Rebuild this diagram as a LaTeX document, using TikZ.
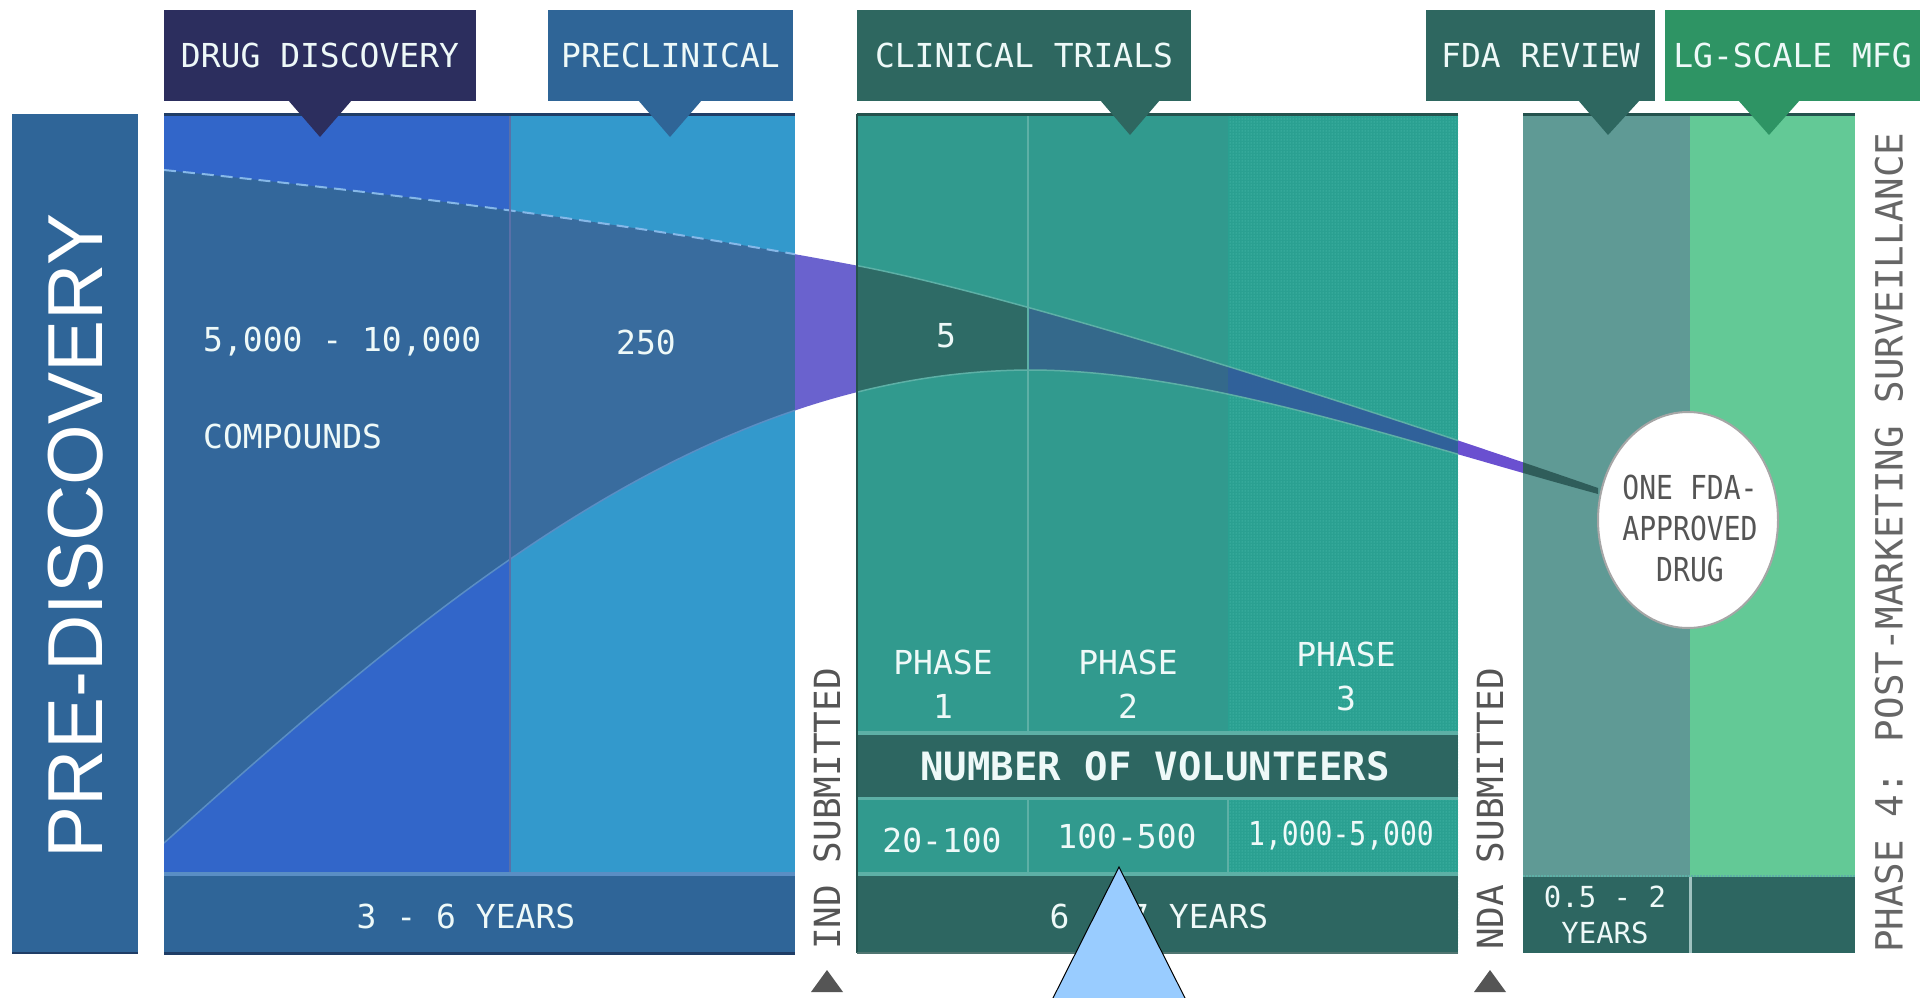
\documentclass[tikz,border=0pt]{standalone}
\usepackage{fontspec}
\newfontfamily\monof{DejaVu Sans Mono}
\newfontfamily\condmonof[FakeStretch=0.85]{DejaVu Sans Mono}
\newfontfamily\widesansf{Liberation Sans}
\usetikzlibrary{patterns,shapes.geometric}
\definecolor{hdrnavy}{HTML}{2C2E5E}
\definecolor{hdrblue}{HTML}{2F6597}
\definecolor{hdrteal}{HTML}{2E6760}
\definecolor{hdrgreen}{HTML}{2E9464}
\definecolor{predisc}{HTML}{2F6598}
\definecolor{ddblue}{HTML}{3266C9}
\definecolor{preblue}{HTML}{3399CC}
\definecolor{funblue}{HTML}{33679B}
\definecolor{funpurple}{HTML}{6A62CE}
\definecolor{funpurple2}{HTML}{6A50D0}
\definecolor{ctteal}{HTML}{319A8E}
\definecolor{p3teal}{HTML}{2AA091}
\definecolor{p3dot}{HTML}{5CCABB}
\definecolor{funteal}{HTML}{2E6B66}
\definecolor{funp2}{HTML}{34698B}
\definecolor{funp3}{HTML}{30619A}
\definecolor{funfda}{HTML}{2F5D5A}
\definecolor{darkteal}{HTML}{2D6661}
\definecolor{fdacol}{HTML}{5F9A95}
\definecolor{lgcol}{HTML}{63C996}
\definecolor{septeal}{HTML}{5DB0A6}
\definecolor{sepblue}{HTML}{5A8EC4}
\definecolor{divblue}{HTML}{5A70A8}
\definecolor{edgeblue}{HTML}{1F3D66}
\definecolor{edgeteal}{HTML}{24524D}
\definecolor{labelwhite}{HTML}{EEF9F8}
\definecolor{greytext}{HTML}{555555}
\definecolor{callout}{HTML}{99CCFF}
\definecolor{dashcol}{HTML}{86B8E8}
\tikzset{
  upperedge/.style={insert path={(164,170) .. controls (400,194) and (650,226) .. (859,266) .. controls (1000,293) and (1300,385) .. (1598,488)}},
  loweredge/.style={insert path={(1598,494) .. controls (1400,440) and (1200,370) .. (1029,370) .. controls (700,372) and (430,605) .. (164,843)}},
  funnelshape/.style={insert path={(164,170) .. controls (400,194) and (650,226) .. (859,266) .. controls (1000,293) and (1300,385) .. (1598,488)
      -- (1598,494) .. controls (1400,440) and (1200,370) .. (1029,370) .. controls (700,372) and (430,605) .. (164,843) -- cycle}},
  hdrbox/.style={minimum height=91pt, inner sep=0pt, text=labelwhite, font=\monof\fontsize{33}{36}\selectfont},
  lbl/.style={inner sep=0pt, text=labelwhite, font=\monof\fontsize{33}{44}\selectfont, align=center},
  vlbl/.style={inner sep=0pt, text=greytext, rotate=90, anchor=west, font=\monof\fontsize{36}{40}\selectfont},
}
\begin{document}
\begin{tikzpicture}[x=1pt,y=-1pt]
\useasboundingbox (0,0) rectangle (1928,998);
\fill[white] (0,0) rectangle (1928,998);

% ---------- pre-discovery box
\fill[predisc] (12,114) rectangle (138,953);
\draw[edgeblue, line width=2pt] (12,953) -- (138,953);
\node[inner sep=0pt, text=white, rotate=90, font=\widesansf\fontsize{78}{80}\selectfont] (prediscovery) at (76,536) {PRE-DISCOVERY};

% ---------- left panel backgrounds
\fill[ddblue] (164,114) rectangle (510,875);
\fill[preblue] (510,114) rectangle (795,875);
% ---------- clinical backgrounds
\fill[ctteal] (857,114) rectangle (1228,953);
\fill[p3teal] (1228,114) rectangle (1458,953);
\fill[pattern=dots, pattern color=p3dot] (1228,114) rectangle (1458,953);
% ---------- right panel backgrounds
\fill[fdacol] (1523,114) rectangle (1690,953);
\fill[lgcol] (1690,114) rectangle (1855,953);

% ---------- funnel, coloured per column
\begin{scope}\clip (164,114) rectangle (510,875); \fill[funblue, funnelshape]; \end{scope}
\begin{scope}\clip (510,114) rectangle (795,875); \fill[funblue!97!white, funnelshape]; \end{scope}
\begin{scope}\clip (795,114) rectangle (857,875); \fill[funpurple, funnelshape]; \end{scope}
\begin{scope}\clip (857,114) rectangle (1028,733); \fill[funteal, funnelshape]; \end{scope}
\begin{scope}\clip (1028,114) rectangle (1228,733); \fill[funp2, funnelshape]; \end{scope}
\begin{scope}\clip (1228,114) rectangle (1458,733); \fill[funp3, funnelshape]; \end{scope}
\begin{scope}\clip (1458,114) rectangle (1523,733); \fill[funpurple2, funnelshape]; \end{scope}
\begin{scope}\clip (1523,114) rectangle (1690,733); \fill[funfda, funnelshape]; \end{scope}

% funnel edge lines
\begin{scope}\clip (164,114) rectangle (795,875);
  \draw[dashcol, line width=2pt, dash pattern=on 12pt off 7pt, upperedge];
  \draw[sepblue, line width=1.5pt, loweredge];
\end{scope}
\begin{scope}\clip (857,114) rectangle (1458,733);
  \draw[septeal, line width=1.5pt, upperedge];
  \draw[septeal, line width=1.5pt, loweredge];
\end{scope}

% ---------- column dividers
\draw[divblue, line width=2.5pt] (510,114) -- (510,875);
\draw[septeal, line width=2.5pt] (1028,114) -- (1028,733);
\draw[septeal, line width=2pt] (1028,797) -- (1028,873);
\draw[septeal, line width=2pt] (1228,797) -- (1228,873);

% ---------- bottom bands
\fill[sepblue] (164,872) rectangle (795,876);
\fill[predisc] (164,876) rectangle (795,953);
\draw[edgeblue, line width=3pt] (164,953) -- (795,953);
\draw[edgeblue, line width=3pt] (164,114) -- (795,114);

\fill[septeal] (857,731) rectangle (1458,735);
\fill[darkteal] (857,735) rectangle (1458,797);
\fill[septeal] (857,797) rectangle (1458,800);
\fill[septeal] (857,872) rectangle (1458,876);
\fill[darkteal] (857,876) rectangle (1458,953);
\draw[edgeteal, line width=3pt] (857,114) -- (1458,114);
\draw[edgeteal, line width=2pt] (857,114) -- (857,953);
\draw[edgeteal!80, line width=2pt] (857,953) -- (1458,953);

\fill[darkteal] (1523,877) rectangle (1855,953);
\draw[septeal, line width=2pt, densely dotted] (1523,876) -- (1855,876);
\draw[fdacol!60!white, line width=3pt] (1690,877) -- (1690,953);
\draw[edgeteal, line width=3pt] (1523,114) -- (1855,114);

% ---------- headers with pointers
\node[hdrbox, fill=hdrnavy, minimum width=312pt] (hdd) at (320,55.5) {DRUG DISCOVERY};
\fill[hdrnavy] (288,100) -- (352,100) -- (320,137) -- cycle;
\node[hdrbox, fill=hdrblue, minimum width=245pt] (hpre) at (670.5,55.5) {PRECLINICAL};
\fill[hdrblue] (638,100) -- (702,100) -- (670,137) -- cycle;
\node[hdrbox, fill=hdrteal, minimum width=334pt] (hct) at (1024,55.5) {CLINICAL TRIALS};
\fill[hdrteal] (1100,100) -- (1160,100) -- (1130,135) -- cycle;
\node[hdrbox, fill=hdrteal, minimum width=229pt] (hfda) at (1540.5,55.5) {FDA REVIEW};
\fill[hdrteal] (1578,100) -- (1640,100) -- (1608,135) -- cycle;
\node[hdrbox, fill=hdrgreen, minimum width=255pt] (hlg) at (1792.5,55.5) {LG-SCALE MFG};
\fill[hdrgreen] (1738,100) -- (1800,100) -- (1769,135) -- cycle;

% ---------- panel texts
\node[lbl, anchor=west] (compnum) at (203,342) {5,000 - 10,000};
\node[lbl, anchor=west] (compounds) at (203,436) {COMPOUNDS};
\node[lbl] (n250) at (646,342) {250};
\node[lbl] (n5) at (946,336) {5};
\node[lbl] (ph1) at (943,684) {PHASE\\1};
\node[lbl] (ph2) at (1128,684) {PHASE\\2};
\node[lbl] (ph3) at (1346,676) {PHASE\\3};
\node[lbl, font=\monof\bfseries\fontsize{39}{44}\selectfont] (volunteers) at (1155,766) {NUMBER OF VOLUNTEERS};
\node[lbl] (v1) at (942,840) {20-100};
\node[lbl] (v2) at (1127,836) {100-500};
\node[lbl, font=\condmonof\fontsize{33}{36}\selectfont] (v3) at (1341,836) {1,000-5,000};
\node[lbl] (y36) at (466,916) {3 - 6 YEARS};
\node[lbl] (y67) at (1159,916) {6 - 7 YEARS};
\node[lbl, font=\monof\fontsize{29}{36}\selectfont] (y052) at (1605,915) {0.5 - 2\\YEARS};

% ---------- approved drug ellipse
\node[ellipse, draw=gray!70, line width=2pt, fill=white, minimum width=180pt, minimum height=216pt,
      inner sep=0pt] (drugoval) at (1688,520) {};
\node[inner sep=0pt, align=center, text=greytext, font=\condmonof\fontsize{33}{41}\selectfont] (drug) at (1690,528) {ONE FDA-\\APPROVED\\DRUG};

% ---------- vertical labels and markers
\node[vlbl] (ind) at (827,950) {IND SUBMITTED};
\fill[greytext] (811,992) -- (843,992) -- (827,970) -- cycle;
\node[vlbl] (nda) at (1490,950) {NDA SUBMITTED};
\fill[greytext] (1474,992) -- (1506,992) -- (1490,970) -- cycle;
\node[vlbl, font=\monof\fontsize{37.5}{40}\selectfont, text=greytext!90!white] (phase4) at (1889,953) {PHASE 4: POST-MARKETING SURVEILLANCE};

% ---------- callout triangle
\filldraw[fill=callout, draw=black, line width=1pt] (1119,867) -- (1187,1002) -- (1051,1002) -- cycle;
\end{tikzpicture}
\end{document}
